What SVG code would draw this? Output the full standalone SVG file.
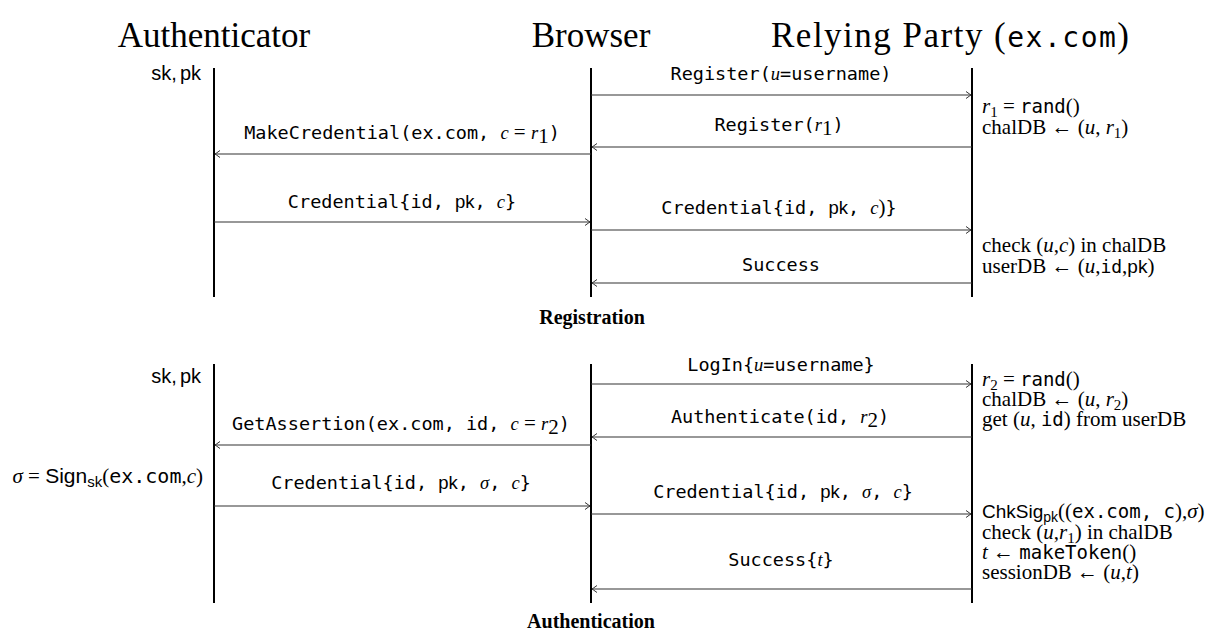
<svg xmlns="http://www.w3.org/2000/svg" width="1226" height="636" viewBox="0 0 1226 636">
<defs>
<style>
.title{font-family:"Liberation Serif",serif;font-size:35px;fill:#000}
.tmono{font-family:"DejaVu Sans Mono","Liberation Mono",monospace;font-size:28px}
.lbl{font-family:"DejaVu Sans Mono","Liberation Mono",monospace;font-size:18.5px;fill:#000;text-anchor:middle}
.ser{font-family:"Liberation Serif",serif;font-size:21px;fill:#000}
.it{font-family:"Liberation Serif",serif;font-style:italic}
.mono{font-family:"DejaVu Sans Mono","Liberation Mono",monospace}
.sans{font-family:"Liberation Sans",sans-serif}
.sf{font-family:"Liberation Sans",sans-serif;font-size:20px;fill:#000}
.cap{font-family:"Liberation Serif",serif;font-size:20px;font-weight:bold;text-anchor:middle;fill:#000}
.life{stroke:#000;stroke-width:2}
.msg{stroke:#333;stroke-width:1.2;fill:none;marker-end:url(#ah)}
</style>
<marker id="ah" markerUnits="userSpaceOnUse" markerWidth="12" markerHeight="12" refX="6" refY="6" orient="auto" overflow="visible">
<path d="M1,2.5 Q5,5.4 6,6 Q5,6.6 1,9.5" fill="none" stroke="#333" stroke-width="1"/>
</marker>
</defs>

<g id="titles">
<text class="title" x="214" y="47" text-anchor="middle">Authenticator</text>
<text class="title" x="591" y="47" text-anchor="middle">Browser</text>
<text class="title" x="950" y="47" text-anchor="middle" textLength="358" lengthAdjust="spacing">Relying Party (<tspan class="tmono">ex.com</tspan>)</text>
</g>

<g id="lifelines">
<line class="life" x1="214" y1="68" x2="214" y2="297"/>
<line class="life" x1="591" y1="68" x2="591" y2="297"/>
<line class="life" x1="972" y1="68" x2="972" y2="297"/>
<line class="life" x1="214" y1="364" x2="214" y2="603"/>
<line class="life" x1="591" y1="364" x2="591" y2="603"/>
<line class="life" x1="972" y1="364" x2="972" y2="603"/>
</g>

<g id="connectors">
<line class="msg" x1="591" y1="95" x2="971" y2="95"/>
<line class="msg" x1="972" y1="147" x2="592" y2="147"/>
<line class="msg" x1="591" y1="154" x2="215" y2="154"/>
<line class="msg" x1="214" y1="222" x2="590" y2="222"/>
<line class="msg" x1="591" y1="230" x2="971" y2="230"/>
<line class="msg" x1="972" y1="283" x2="592" y2="283"/>
<line class="msg" x1="591" y1="384" x2="971" y2="384"/>
<line class="msg" x1="972" y1="437" x2="592" y2="437"/>
<line class="msg" x1="591" y1="445" x2="215" y2="445"/>
<line class="msg" x1="214" y1="506" x2="590" y2="506"/>
<line class="msg" x1="591" y1="514" x2="971" y2="514"/>
<line class="msg" x1="972" y1="589" x2="592" y2="589"/>
</g>

<g id="registration">
<g id="reg-auth-state"><text class="sf" x="201" y="80" text-anchor="end">sk,<tspan dx="3">pk</tspan></text></g>
<g id="reg-msg1"><text class="lbl" x="781" y="80">Register(<tspan class="it">u</tspan>=username)</text></g>
<g id="reg-rp1">
<text class="ser" x="982" y="113"><tspan class="it">r</tspan><tspan font-size="15" dy="4">1</tspan><tspan dy="-4"> = </tspan><tspan class="mono" font-size="19">rand</tspan>()</text>
<text class="ser" x="982" y="134">chalDB ← (<tspan class="it">u</tspan>, <tspan class="it">r</tspan><tspan font-size="15" dy="4">1</tspan><tspan dy="-4">)</tspan></text>
</g>
<g id="reg-msg2"><text class="lbl" x="779" y="131">Register(<tspan class="it">r</tspan><tspan class="ser" font-size="14" dy="4">1</tspan><tspan dy="-4">)</tspan></text></g>
<g id="reg-msg3"><text class="lbl" x="402" y="139">MakeCredential(ex.com, <tspan class="it">c</tspan><tspan class="ser" font-size="19"> = </tspan><tspan class="it">r</tspan><tspan class="ser" font-size="14" dy="4">1</tspan><tspan dy="-4">)</tspan></text></g>
<g id="reg-msg4"><text class="lbl" x="402" y="208">Credential{id, <tspan class="sans">pk</tspan>, <tspan class="it">c</tspan>}</text></g>
<g id="reg-msg5"><text class="lbl" x="779" y="214">Credential{id, <tspan class="sans">pk</tspan>, <tspan class="it">c</tspan><tspan class="ser" font-size="19">)</tspan>}</text></g>
<g id="reg-rp2">
<text class="ser" x="982" y="252">check (<tspan class="it">u</tspan>,<tspan class="it">c</tspan>) in chalDB</text>
<text class="ser" x="982" y="273">userDB ← (<tspan class="it">u</tspan>,<tspan class="mono" font-size="18">id</tspan>,<tspan class="sans" font-size="19">pk</tspan>)</text>
</g>
<g id="reg-msg6"><text class="lbl" x="781" y="271">Success</text></g>
<g id="reg-caption"><text class="cap" x="592" y="324">Registration</text></g>
</g>

<g id="authentication">
<g id="auth-auth-state"><text class="sf" x="201" y="383" text-anchor="end">sk,<tspan dx="3">pk</tspan></text></g>
<g id="auth-msg1"><text class="lbl" x="781" y="371">LogIn{<tspan class="it">u</tspan>=username}</text></g>
<g id="auth-rp1">
<text class="ser" x="982" y="386"><tspan class="it">r</tspan><tspan font-size="15" dy="4">2</tspan><tspan dy="-4"> = </tspan><tspan class="mono" font-size="19">rand</tspan>()</text>
<text class="ser" x="982" y="406">chalDB ← (<tspan class="it">u</tspan>, <tspan class="it">r</tspan><tspan font-size="15" dy="4">2</tspan><tspan dy="-4">)</tspan></text>
<text class="ser" x="982" y="426">get (<tspan class="it">u</tspan>, <tspan class="mono" font-size="19">id</tspan>) from userDB</text>
</g>
<g id="auth-msg2"><text class="lbl" x="780" y="423">Authenticate(id, <tspan class="it">r</tspan><tspan class="ser" font-size="14" dy="4">2</tspan><tspan dy="-4">)</tspan></text></g>
<g id="auth-msg3"><text class="lbl" x="401" y="430">GetAssertion(ex.com, id, <tspan class="it">c</tspan><tspan class="ser" font-size="19"> = </tspan><tspan class="it">r</tspan><tspan class="ser" font-size="14" dy="4">2</tspan><tspan dy="-4">)</tspan></text></g>
<g id="auth-sign"><text class="ser" x="203" y="483" text-anchor="end" font-size="22"><tspan class="it">σ</tspan> = <tspan class="sans">Sign</tspan><tspan class="sans" font-size="15" dy="4">sk</tspan><tspan dy="-4">(</tspan><tspan class="mono" font-size="20">ex.com</tspan>,<tspan class="it">c</tspan>)</text></g>
<g id="auth-msg4"><text class="lbl" x="401" y="489">Credential{id, <tspan class="sans">pk</tspan>, <tspan class="it">σ</tspan>, <tspan class="it">c</tspan>}</text></g>
<g id="auth-msg5"><text class="lbl" x="783" y="498">Credential{id, <tspan class="sans">pk</tspan>, <tspan class="it">σ</tspan>, <tspan class="it">c</tspan>}</text></g>
<g id="auth-rp2">
<text class="ser" x="982" y="518"><tspan class="sans" font-size="19">ChkSig</tspan><tspan class="sans" font-size="14" dy="4">pk</tspan><tspan dy="-4">((</tspan><tspan class="mono" font-size="19">ex.com, c</tspan>),<tspan class="it">σ</tspan>)</text>
<text class="ser" x="982" y="539">check (<tspan class="it">u</tspan>,<tspan class="it">r</tspan><tspan font-size="15" dy="4">1</tspan><tspan dy="-4">) in chalDB</tspan></text>
<text class="ser" x="982" y="559"><tspan class="it">t</tspan> ← <tspan class="mono" font-size="19">makeToken</tspan>()</text>
<text class="ser" x="982" y="579">sessionDB ← (<tspan class="it">u</tspan>,<tspan class="it">t</tspan>)</text>
</g>
<g id="auth-msg6"><text class="lbl" x="781" y="566">Success{<tspan class="it">t</tspan>}</text></g>
<g id="auth-caption"><text class="cap" x="591" y="628">Authentication</text></g>
</g>
</svg>
